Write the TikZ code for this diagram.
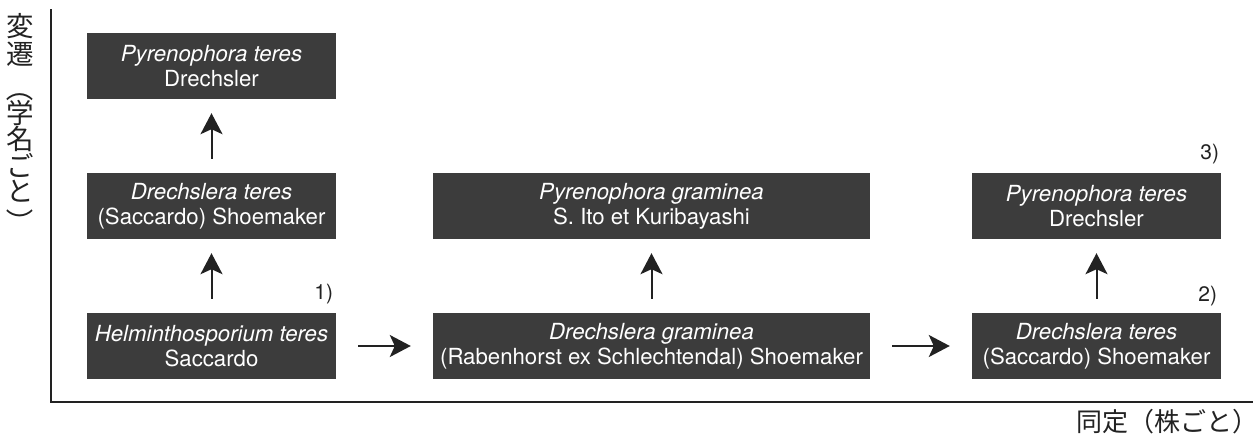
\documentclass[tikz,border=0pt]{standalone}
\usepackage{fontspec}
\setmainfont{TeX Gyre Heros}
\newfontfamily\jpfont{Noto Sans CJK JP}
\usetikzlibrary{arrows.meta,calc}
\definecolor{boxgray}{HTML}{3C3C3C}
\definecolor{inkgray}{HTML}{222222}
\begin{document}
\begin{tikzpicture}[x=1pt,y=-1pt,
  taxon/.style={fill=boxgray, text=white, minimum width=249pt, minimum height=66pt,
    inner sep=0pt, align=center, font=\fontsize{22.2}{25}\selectfont},
  widetaxon/.style={taxon, minimum width=437pt},
  arr/.style={-{Stealth[length=21pt,width=22pt,inset=5pt]}, line width=2pt, draw=inkgray, fill=inkgray},
  vgap/.style={shorten <=14pt, shorten >=14pt},
  hgap/.style={shorten <=22pt, shorten >=22pt},
  num/.style={font=\fontsize{21}{21}\selectfont, anchor=base east, inner sep=0pt, text=inkgray},
  jpl/.style={font=\jpfont\fontsize{27.5}{27.5}\selectfont, inner sep=0pt, text=inkgray},
  axis/.style={line width=2pt, draw=inkgray}
]
\useasboundingbox (0,0) rectangle (1253,442);

% axes
\coordinate (origin) at (51,402);
\coordinate (ytop) at (51,9);
\coordinate (xend) at (1253,402);
\draw[axis] (ytop) -- (origin) -- (xend);

% boxes
\node[taxon] (A) at (211.5,66) {\textit{Pyrenophora teres}\\Drechsler};
\node[taxon] (B) at (211.5,206) {\textit{Drechslera teres}\\(Saccardo) Shoemaker};
\node[taxon] (C) at (211.5,346) {\textit{Helminthosporium teres}\\Saccardo};
\node[widetaxon] (D) at (651.5,206) {\textit{Pyrenophora graminea}\\S. Ito et Kuribayashi};
\node[widetaxon] (E) at (651.5,346) {\textit{Drechslera graminea}\\(Rabenhorst ex Schlechtendal) Shoemaker};
\node[taxon] (F) at (1096.5,206) {\textit{Pyrenophora teres}\\Drechsler};
\node[taxon] (G) at (1096.5,346) {\textit{Drechslera teres}\\(Saccardo) Shoemaker};

% arrows
\draw[arr, vgap] (B) -- (A);
\draw[arr, vgap] (C) -- (B);
\draw[arr, vgap] (E) -- (D);
\draw[arr, vgap] (G) -- (F);
\draw[arr, hgap] (C) -- (E);
\draw[arr, hgap] (E) -- (G);

% numbers
\node[num] (n1) at ($(C.north east)+(-3,-13)$) {1)};
\node[num] (n2) at ($(G.north east)+(-4,-11)$) {2)};
\node[num] (n3) at ($(F.north east)+(-2,-13)$) {3)};

% vertical axis label
\node[jpl] (v1) at (20,26) {変};
\node[jpl] (v2) at (20,54) {遷};
\node[jpl, rotate=-90] (v3) at (20,88) {（};
\node[jpl] (v4) at (20,113) {学};
\node[jpl] (v5) at (20,139) {名};
\node[jpl] (v6) at (20,165) {ご};
\node[jpl] (v7) at (20,191) {と};
\node[jpl, rotate=-90] (v8) at (20,222) {）};

% horizontal axis label
\node[jpl, font=\jpfont\fontsize{26}{26}\selectfont, text height=20pt, text depth=3pt,
  anchor=base east] (xl) at (1244,431) {同定（株ごと\makebox[0.45em][l]{）}};
\end{tikzpicture}
\end{document}
